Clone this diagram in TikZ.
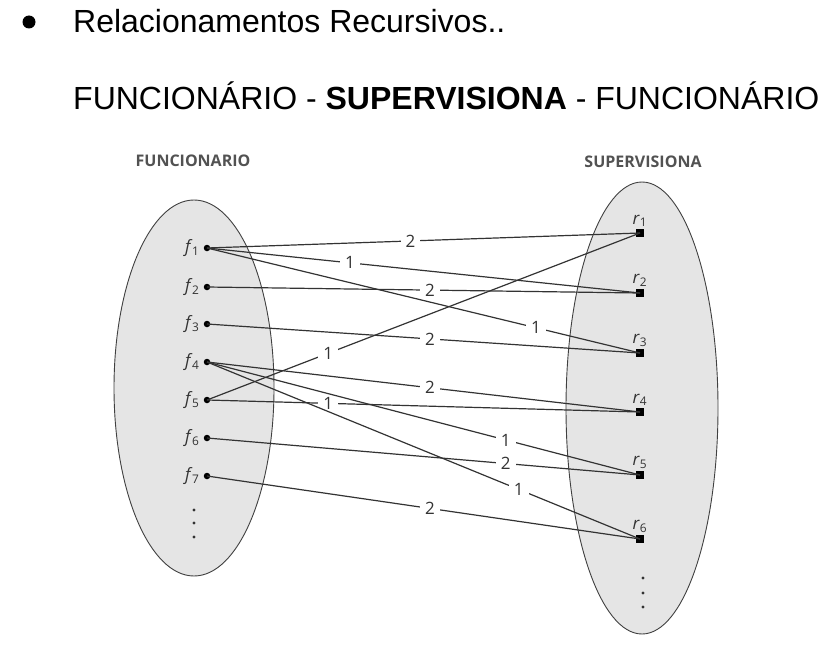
\documentclass[tikz,border=0pt]{standalone}
\usepackage{fontspec}
\setmainfont{Liberation Sans}
\newfontfamily\diagfont{Open Sans}
\usetikzlibrary{positioning,shapes.geometric}
\newcommand{\fl}[1]{\textit{f}\textsubscript{\kern-0.5pt#1}}
\newcommand{\rl}[1]{\textit{r}\textsubscript{#1}}

\begin{document}
\begin{tikzpicture}[x=1pt,y=-1pt,
  conj/.style={ellipse,draw=black!75,fill=gray!20,line width=0.9pt,inner sep=0pt},
  pt/.style={circle,fill=black,inner sep=0pt,minimum size=6.5pt},
  sq/.style={rectangle,fill=black,inner sep=0pt,minimum size=8pt},
  dotv/.style={circle,fill=black!80,inner sep=0pt,minimum size=3.2pt},
  lig/.style={draw=black!80,line width=1.2pt},
  num/.style={fill=white,inner xsep=5pt,inner ysep=1pt,text=black!80,font=\diagfont\fontsize{17}{17}\selectfont},
  elem/.style={inner sep=1pt,text=black!80,font=\diagfont\fontsize{17}{17}\selectfont},
  cab/.style={text=black!68,font=\diagfont\fontsize{16}{16}\selectfont\bfseries},
  tit/.style={anchor=west,inner sep=0pt,font=\fontsize{32}{32}\selectfont}]
  \useasboundingbox (0,0) rectangle (824,658);
  % titulo
  \node (bul) [circle,fill=black,inner sep=0pt,minimum size=13pt] at (29,22) {};
  \node (t1) [tit] at (73,21) {Relacionamentos Recursivos..};
  \node (t2) [tit] at (73,96) {FUNCION\'ARIO - \textbf{SUPERVISIONA} - FUNCION\'ARIO};
  % conjuntos
  \node (hF) [cab] at (193,161) {FUNCIONARIO};
  \node (hR) [cab] at (643,162) {SUPERVISIONA};
  \node (setF) [conj,minimum width=160pt,minimum height=376pt] at (194,388) {};
  \node (setR) [conj,minimum width=152pt,minimum height=452pt] at (642,408) {};
  % funcionarios
  \node (f1) [pt] at (207,248) {};
  \node (f2) [pt] at (207,287) {};
  \node (f3) [pt] at (207,324) {};
  \node (f4) [pt] at (207,362) {};
  \node (f5) [pt] at (207,400) {};
  \node (f6) [pt] at (207,438) {};
  \node (f7) [pt] at (207,476) {};
  \node (lf1) [elem,left=3pt of f1] {\fl{1}};
  \node (lf2) [elem,left=3pt of f2] {\fl{2}};
  \node (lf3) [elem,left=3pt of f3] {\fl{3}};
  \node (lf4) [elem,left=3pt of f4] {\fl{4}};
  \node (lf5) [elem,left=3pt of f5] {\fl{5}};
  \node (lf6) [elem,left=3pt of f6] {\fl{6}};
  \node (lf7) [elem,left=3pt of f7] {\fl{7}};
  \node (vf1) [dotv] at (194,510) {};
  \node (vf2) [dotv] at (194,523) {};
  \node (vf3) [dotv] at (194,537) {};
  % relacoes
  \node (r1) [sq] at (640,233) {};
  \node (r2) [sq] at (640,293) {};
  \node (r3) [sq] at (640,353) {};
  \node (r4) [sq] at (640,412) {};
  \node (r5) [sq] at (640,475) {};
  \node (r6) [sq] at (640,539) {};
  \node (lr1) [elem,above=1pt of r1] {\rl{1}};
  \node (lr2) [elem,above=1pt of r2] {\rl{2}};
  \node (lr3) [elem,above=1pt of r3] {\rl{3}};
  \node (lr4) [elem,above=1pt of r4] {\rl{4}};
  \node (lr5) [elem,above=1pt of r5] {\rl{5}};
  \node (lr6) [elem,above=1pt of r6] {\rl{6}};
  \node (vr1) [dotv] at (643,578) {};
  \node (vr2) [dotv] at (643,593) {};
  \node (vr3) [dotv] at (643,607) {};
  % ligacoes
  \draw[lig] (f1.center) -- node[num,pos=0.47]{2} (r1.center);
  \draw[lig] (f1.center) -- node[num,pos=0.33]{1} (r2.center);
  \draw[lig] (f1.center) -- node[num,pos=0.76]{1} (r3.center);
  \draw[lig] (f2.center) -- node[num,pos=0.515]{2} (r2.center);
  \draw[lig] (f3.center) -- node[num,pos=0.515]{2} (r3.center);
  \draw[lig] (f5.center) -- node[num,pos=0.28]{1} (r1.center);
  \draw[lig] (f4.center) -- node[num,pos=0.515]{2} (r4.center);
  \draw[lig] (f5.center) -- node[num,pos=0.28]{1} (r4.center);
  \draw[lig] (f4.center) -- node[num,pos=0.69]{1} (r5.center);
  \draw[lig] (f6.center) -- node[num,pos=0.69]{2} (r5.center);
  \draw[lig] (f4.center) -- node[num,pos=0.72]{1} (r6.center);
  \draw[lig] (f7.center) -- node[num,pos=0.515]{2} (r6.center);
\end{tikzpicture}
\end{document}
